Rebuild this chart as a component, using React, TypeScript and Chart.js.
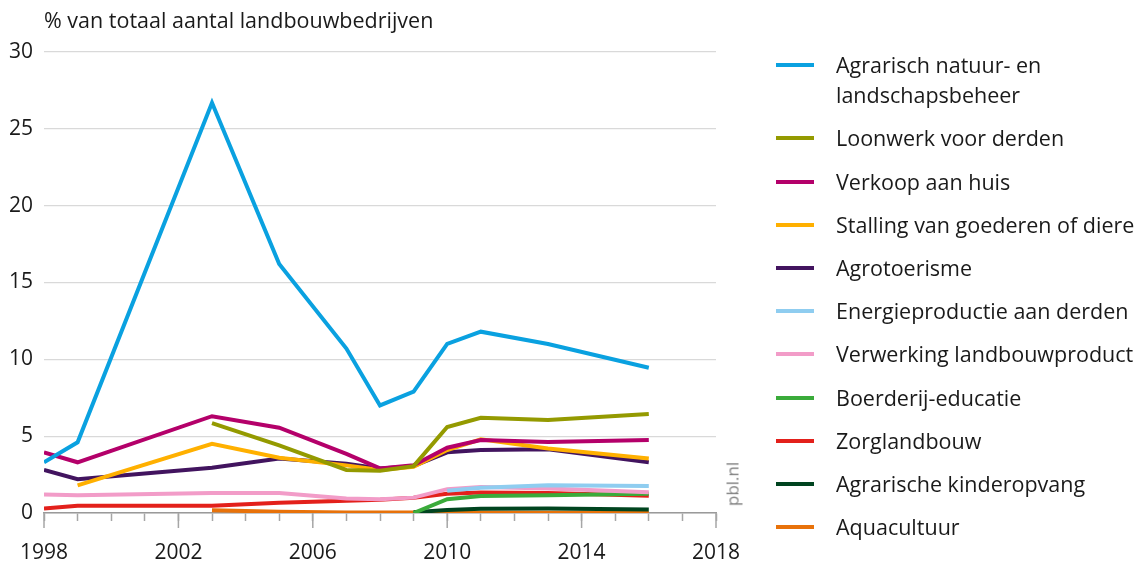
import React, { useEffect, useRef } from "react";
import { Chart, registerables } from "chart.js";

Chart.register(...registerables);

const years = [1998, 1999, 2003, 2005, 2007, 2008, 2009, 2010, 2011, 2013, 2016];

const natuur = [3.3, 4.6, 26.7, 16.2, 10.7, 7.0, 7.9, 11.0, 11.8, 11.0, 9.45];
const loonwerk = [null, null, 5.85, 4.4, 2.8, 2.75, 3.05, 5.6, 6.2, 6.05, 6.45];
const verkoop = [3.95, 3.3, 6.3, 5.55, 3.85, 2.9, 3.1, 4.25, 4.75, 4.62, 4.75];
const stalling = [null, 1.8, 4.5, 3.6, 3.1, 2.8, 3.0, 4.1, 4.8, 4.2, 3.55];
const agrotoerisme = [2.8, 2.2, 2.95, 3.55, 3.2, 2.9, 3.05, 3.95, 4.1, 4.15, 3.3];
const energie = [null, null, null, null, null, null, null, 1.45, 1.65, 1.8, 1.75];
const verwerking = [1.2, 1.15, 1.3, 1.3, 0.95, 0.9, 1.0, 1.55, 1.7, 1.6, 1.35];
const educatie = [null, null, null, null, null, null, 0.0, 0.9, 1.1, 1.15, 1.25];
const zorg = [0.3, 0.47, 0.47, 0.67, 0.8, 0.87, 1.0, 1.25, 1.33, 1.3, 1.12];
const kinderopvang = [null, null, null, null, null, null, 0.05, 0.2, 0.28, 0.3, 0.22];
const aquacultuur = [null, null, 0.18, 0.08, 0.04, 0.03, 0.03, 0.02, 0.02, 0.02, 0.0];

const seriesNames = [
  "Agrarisch natuur- en\nlandschapsbeheer",
  "Loonwerk voor derden",
  "Verkoop aan huis",
  "Stalling van goederen of diere",
  "Agrotoerisme",
  "Energieproductie aan derden",
  "Verwerking landbouwproduct",
  "Boerderij-educatie",
  "Zorglandbouw",
  "Agrarische kinderopvang",
  "Aquacultuur",
];
const seriesValues = [
  natuur, loonwerk, verkoop, stalling, agrotoerisme, energie,
  verwerking, educatie, zorg, kinderopvang, aquacultuur,
];
const seriesColors = [
  "#0aa1e0", "#949a00", "#b4006a", "#ffb000", "#42145f", "#8fcdf0",
  "#f29cc8", "#3aab3a", "#e3201b", "#00441f", "#e8720a",
];

const yTicks = [0, 5, 10, 15, 20, 25, 30];
const xMajorYears = [1998, 2002, 2006, 2010, 2014, 2018];

const yTitle = "% van totaal aantal landbouwbedrijven";
const FONT = "'Open Sans', 'Noto Sans', sans-serif";

const legendCenters = [65, 138.3, 181.5, 224.7, 267.9, 311.1, 354.3, 397.5, 440.7, 483.9, 527.1];

const majorTicksPlugin = {
  id: "majorTicks",
  afterDraw(chart: any) {
    const x = chart.scales.x;
    const ctx = chart.ctx;
    const bottom = chart.chartArea.bottom;
    ctx.save();
    ctx.strokeStyle = "#a6a6a6";
    ctx.lineWidth = 1.5;
    xMajorYears.forEach((yr) => {
      const px = x.getPixelForValue(yr);
      ctx.beginPath();
      ctx.moveTo(px, bottom);
      ctx.lineTo(px, bottom + 15);
      ctx.stroke();
    });
    ctx.restore();
  },
};

export default function App() {
  const ref = useRef<HTMLCanvasElement | null>(null);

  useEffect(() => {
    if (!ref.current) return;
    const datasets = seriesValues.map((vals, i) => ({
      label: seriesNames[i],
      data: years
        .map((yr, j) => ({ x: yr, y: vals[j] }))
        .filter((p) => p.y !== null),
      borderColor: seriesColors[i],
      backgroundColor: seriesColors[i],
      borderWidth: 4,
      pointRadius: 0,
      tension: 0,
      fill: false,
    }));
    const chart = new Chart(ref.current, {
      type: "line",
      data: { datasets },
      options: {
        animation: false,
        responsive: false,
        devicePixelRatio: 1,
        layout: { padding: { top: 52, right: 425, left: 0, bottom: 0 } },
        plugins: { legend: { display: false }, tooltip: { enabled: false } },
        scales: {
          x: {
            type: "linear",
            min: 1998,
            max: 2018,
            afterFit: (s: any) => { s.height = 52; },
            ticks: {
              stepSize: 1,
              autoSkip: false,
              maxRotation: 0,
              padding: 19,
              color: "#1a1a1a",
              font: { family: FONT, size: 21 },
              callback: (v: any) => (xMajorYears.includes(Number(v)) ? String(v) : ""),
            },
            grid: {
              display: true,
              drawOnChartArea: false,
              drawTicks: true,
              tickLength: 8,
              tickColor: "#a6a6a6",
              tickWidth: 1.5,
            },
            border: { display: true, color: "#9a9a9a", width: 1.5 },
          },
          y: {
            min: 0,
            max: 30,
            afterFit: (s: any) => { s.width = 44; },
            afterBuildTicks: (s: any) => { s.ticks = yTicks.map((v) => ({ value: v })); },
            ticks: {
              padding: 11,
              color: "#1a1a1a",
              font: { family: FONT, size: 21 },
            },
            grid: { color: "#d9d9d9", lineWidth: 1.2, drawTicks: false },
            border: { display: false },
          },
        },
      },
      plugins: [majorTicksPlugin],
    });
    return () => chart.destroy();
  }, []);

  return (
    <div style={{ position: "fixed", left: 0, top: 0, width: 1141, height: 565, overflow: "hidden", background: "#fff", fontFamily: FONT }}>
      <canvas ref={ref} width={1141} height={565} style={{ position: "absolute", left: 0, top: 0, width: 1141, height: 565 }} />
      <div style={{ position: "absolute", left: 44, top: 5, fontSize: 21.5, lineHeight: "30px", color: "#1a1a1a", whiteSpace: "nowrap" }}>{yTitle}</div>
      <div style={{ position: "absolute", left: 732, top: 484, transform: "translate(-50%, -50%) rotate(-90deg)", fontSize: 17, color: "#808080", whiteSpace: "nowrap" }}>pbl.nl</div>
      {seriesNames.map((name, i) => (
        <div key={i} style={{ position: "absolute", left: 776, top: legendCenters[i] - 15, display: "flex", alignItems: "flex-start" }}>
          <div style={{ width: 38, height: 4, marginTop: 13, background: seriesColors[i] }} />
          <div style={{ marginLeft: 22, fontSize: 21.5, lineHeight: "30px", color: "#1a1a1a", whiteSpace: "pre" }}>{name}</div>
        </div>
      ))}
    </div>
  );
}
